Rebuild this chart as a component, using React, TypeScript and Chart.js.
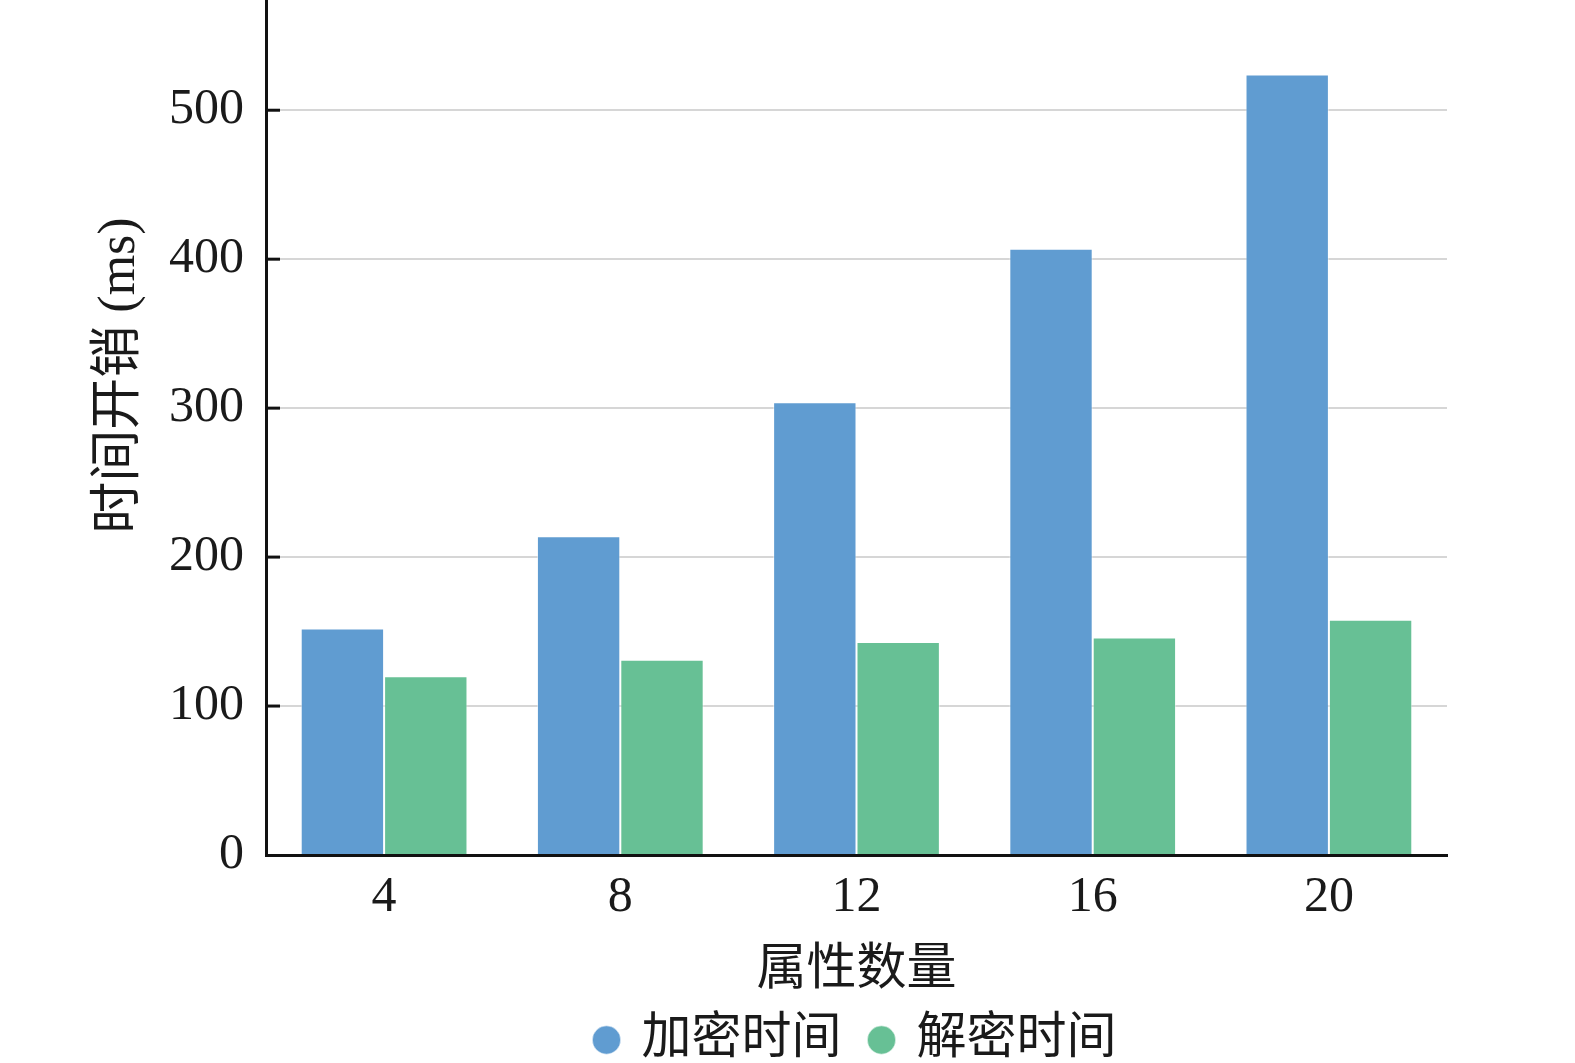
import React, { useEffect, useRef } from 'react';
import { Chart, registerables } from 'chart.js';

Chart.register(...registerables);

// data
const attributeCounts = ['4', '8', '12', '16', '20'];
const encryptTimes = [152, 214, 304, 407, 524];
const decryptTimes = [120, 131, 143, 146, 158];
const seriesNames = ['加密时间', '解密时间'];
const yTickValues = [0, 100, 200, 300, 400, 500];

const FONT = "'Liberation Serif', 'Noto Sans CJK SC', serif";

// small inward tick marks on the y axis
const innerTicks = {
  id: 'innerTicks',
  afterDraw(chart: any) {
    const y = chart.scales.y;
    const { ctx, chartArea } = chart;
    ctx.save();
    ctx.strokeStyle = '#111';
    ctx.lineWidth = 3;
    yTickValues.forEach((v) => {
      if (v === 0) return;
      const py = y.getPixelForValue(v);
      ctx.beginPath();
      ctx.moveTo(chartArea.left, py);
      ctx.lineTo(chartArea.left + 14, py);
      ctx.stroke();
    });
    ctx.restore();
  },
};

const App = () => {
  const canvasRef = useRef<HTMLCanvasElement>(null);

  useEffect(() => {
    if (!canvasRef.current) return;
    const chart = new Chart(canvasRef.current, {
      type: 'bar',
      data: {
        labels: attributeCounts,
        datasets: [
          {
            label: seriesNames[0],
            data: encryptTimes,
            backgroundColor: '#609cd1',
            borderColor: 'rgba(255,255,255,0.5)',
            borderWidth: 1,
          },
          {
            label: seriesNames[1],
            data: decryptTimes,
            backgroundColor: '#67c095',
            borderColor: 'rgba(255,255,255,0.5)',
            borderWidth: 1,
          },
        ],
      },
      options: {
        animation: false,
        responsive: false,
        devicePixelRatio: 1,
        layout: { padding: { left: 93, right: 128, top: 0, bottom: -12 } },
        datasets: {
          bar: { categoryPercentage: 0.706, barPercentage: 1.0 },
        },
        plugins: {
          tooltip: { enabled: false },
          legend: {
            position: 'bottom',
            fullSize: false,
            labels: {
              usePointStyle: true,
              pointStyle: 'circle',
              boxWidth: 20,
              boxHeight: 20,
              padding: 30,
              color: '#1a1a1a',
              font: { family: FONT, size: 50 },
            },
          },
        },
        scales: {
          x: {
            grid: { display: false, drawTicks: false },
            border: { display: true, color: '#111', width: 3 },
            ticks: {
              padding: 13,
              color: '#1a1a1a',
              font: { family: FONT, size: 50 },
            },
            title: {
              display: true,
              text: '属性数量',
              color: '#1a1a1a',
              padding: { top: 0, bottom: -16 },
              font: { family: FONT, size: 50 },
            },
          },
          y: {
            min: 0,
            max: 574,
            afterFit: (s: any) => {
              s.paddingTop = 0;
            },
            grid: { color: '#d6d6d6', lineWidth: 2, drawTicks: false },
            border: { display: true, color: '#111', width: 3 },
            ticks: {
              stepSize: 100,
              includeBounds: false,
              padding: 22,
              color: '#1a1a1a',
              font: { family: FONT, size: 50 },
            },
            title: {
              display: true,
              text: '\u3000\u3000时间开销 (ms)',
              color: '#1a1a1a',
              padding: { top: 1, bottom: 1 },
              font: { family: FONT, size: 52, lineHeight: 1 },
            },
          },
        },
      },
      plugins: [innerTicks],
    });
    return () => chart.destroy();
  }, []);

  return (
    <div style={{ position: 'fixed', left: 0, top: 0, width: 1575, height: 1063, background: '#fff' }}>
      <canvas ref={canvasRef} width={1575} height={1063} />
    </div>
  );
};

export default App;
